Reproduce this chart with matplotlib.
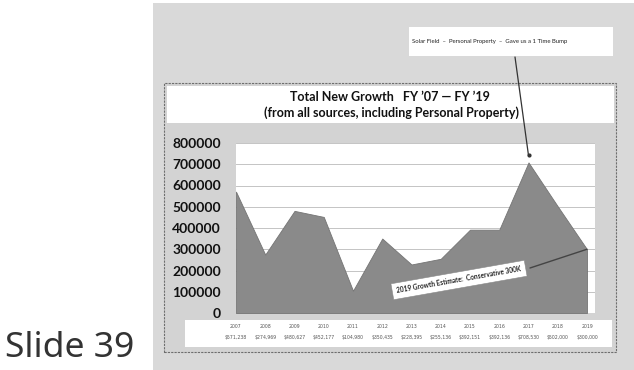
import matplotlib
matplotlib.use("Agg")
import matplotlib.pyplot as plt
from matplotlib.patches import Rectangle
from matplotlib.transforms import blended_transform_factory, offset_copy

# Fiscal years and total new growth (dollars)
years = ["2007", "2008", "2009", "2010", "2011", "2012", "2013",
         "2014", "2015", "2016", "2017", "2018", "2019"]
growth = [571238, 274969, 480627, 452177, 104980, 350435, 228395,
          255136, 392151, 392136, 708530, 502000, 300000]
yticks = [0, 100000, 200000, 300000, 400000, 500000, 600000, 700000, 800000]

title_lines = ["Total New Growth   FY \u201907 \u2014 FY \u201919",
               "(from all sources, including Personal Property)"]
note_top = "Solar Field  \u2013  Personal Property  \u2013  Gave us a 1 Time Bump"
note_bottom = "2019 Growth Estimate:  Conservative 300K"

W, H = 634, 370
fig = plt.figure(figsize=(W / 100, H / 100), dpi=100)
fig.patch.set_facecolor("white")


def fx(px):
    return px / W


def fy(py):
    return 1 - py / H


def rect(x0, y0, x1, y1, **kw):
    fig.add_artist(Rectangle((fx(x0), fy(y1)), fx(x1) - fx(x0), fy(y0) - fy(y1),
                             transform=fig.transFigure, **kw))


# slide background and chart frame
rect(153, 3, 634, 370, facecolor="#d9d9d9", edgecolor="none", zorder=0)
rect(164, 83, 616, 352, facecolor="#d3d3d3", edgecolor="#6e6e6e",
     linestyle=(0, (2, 1)), linewidth=0.8, zorder=1)
rect(167, 86, 614, 123, facecolor="white", edgecolor="none", zorder=2)
rect(185, 320, 612, 347, facecolor="white", edgecolor="none", zorder=2)
rect(409, 27, 613, 56, facecolor="white", edgecolor="none", zorder=2)

fig.text(fx(390), fy(97), title_lines[0], ha="center", va="center",
         fontsize=9, fontweight="bold", family="Lato", color="#111111", zorder=3)
fig.text(fx(391), fy(113), title_lines[1], ha="center", va="center",
         fontsize=9, fontweight="bold", family="Lato", color="#111111", zorder=3)
fig.text(fx(412), fy(42), note_top, ha="left", va="center",
         fontsize=4.3, family="Lato", color="#222222", zorder=3)

fig.text(fx(5), fy(357), "Slide 39", ha="left", va="baseline",
         fontsize=25.5, family="Noto Sans", color="#333333")

# plot area
ax = fig.add_axes([fx(236), fy(313), fx(595) - fx(236), fy(143) - fy(313)], zorder=3)
ax.set_facecolor("white")
xs = list(range(len(years)))
ax.fill_between(xs, growth, 0, facecolor="#8a8a8a", edgecolor="#747474",
                linewidth=0.6, zorder=2)
ax.set_xlim(0, 12 + 8 / 29.25)
ax.set_ylim(0, 800000)
ax.set_yticks(yticks)
ax.set_yticklabels([str(v) for v in yticks], fontsize=10, fontweight="bold",
                   family="Lato", color="#111111")
ax.tick_params(axis="y", length=0, pad=11)
ax.set_xticks([])
ax.grid(axis="y", color="#c4c4c4", linewidth=0.7, zorder=0)
ax.set_axisbelow(True)
for s in ax.spines.values():
    s.set_visible(False)

# category table below the plot
tb = blended_transform_factory(ax.transData, fig.transFigure)
for i, (yr, v) in enumerate(zip(years, growth)):
    ax.text(i, fy(326), yr, transform=tb, ha="center", va="center",
            fontsize=3.3, color="#555555", clip_on=False, zorder=4)
    ax.text(i, fy(338), "${:,}".format(v), transform=tb, ha="center", va="center",
            fontsize=3.3, color="#555555", clip_on=False, zorder=4)

# callout for the 2017 peak
peak = growth.index(max(growth))
dot_tr = offset_copy(ax.transData, fig=fig, x=0, y=7, units="dots")
ax.plot([peak], [growth[peak]], "o", ms=2, color="#333333", transform=dot_tr,
        clip_on=False, zorder=5)
ax.annotate("", xy=(peak, growth[peak]), xycoords=dot_tr,
            xytext=(515, H - 57), textcoords="figure pixels",
            arrowprops=dict(arrowstyle="-", color="#333333", lw=0.9,
                            shrinkA=0, shrinkB=0), zorder=5)

# callout for the 2019 estimate
last = len(years) - 1
ax.annotate("", xy=(last, growth[last]), xycoords="data",
            xytext=(530, H - 268), textcoords="figure pixels",
            arrowprops=dict(arrowstyle="-", color="#444444", lw=1.0,
                            shrinkA=0, shrinkB=0), zorder=5)
fig.text(fx(459), fy(280), note_bottom, ha="center", va="center", rotation=10,
         fontsize=4.7, family="Lato", fontweight="bold", color="#222222", zorder=6,
         bbox=dict(boxstyle="square,pad=0.7", facecolor="white", edgecolor="#888888",
                   linewidth=0.4))

fig.savefig("out.png", dpi=100)
